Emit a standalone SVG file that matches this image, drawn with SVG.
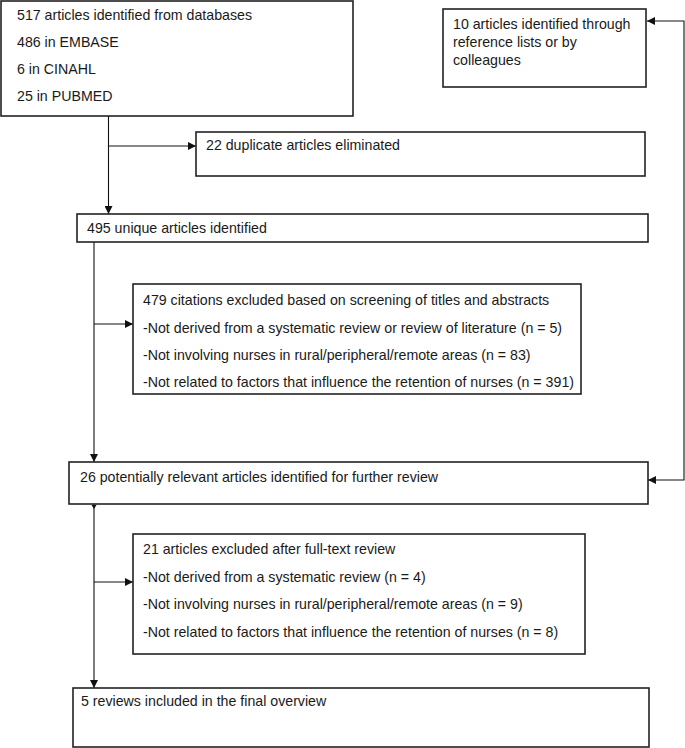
<svg xmlns="http://www.w3.org/2000/svg" width="685" height="748" viewBox="0 0 685 748">
<style>
.box{fill:#fff;stroke:#222;stroke-width:1.6}
.t{font-family:"Liberation Sans",Arial,Helvetica,sans-serif;font-size:14.2px;fill:#1a1a1a}
.c{fill:none;stroke:#111;stroke-width:1.1}
</style>
<defs>
<marker id="ah" viewBox="0 0 10 10" refX="10" refY="5" markerWidth="8" markerHeight="8" markerUnits="userSpaceOnUse" orient="auto-start-reverse">
<path d="M0,0 L10,5 L0,10 z" fill="#111"/>
</marker>
</defs>
<rect width="685" height="748" fill="#fff"/>
<g id="connectors">
<path class="c" d="M108.5,116 V214" marker-end="url(#ah)"/>
<path class="c" d="M108.5,146 H196" marker-end="url(#ah)"/>
<path class="c" d="M94,242 V462" marker-end="url(#ah)"/>
<path class="c" d="M94,324 H133" marker-end="url(#ah)"/>
<path class="c" d="M94,504 V688" marker-end="url(#ah)"/>
<path d="M91.5,505 L96.5,505 L94,509 z" fill="#111"/>
<path class="c" d="M94,582 H133" marker-end="url(#ah)"/>
<path class="c" d="M647,21 H684 V480 H648" marker-start="url(#ah)" marker-end="url(#ah)"/>
</g>
<g id="n1">
<rect class="box" x="1" y="1" width="352" height="115"/>
<text class="t" x="17" y="20">517 articles identified from databases</text>
<text class="t" x="17" y="47">486 in EMBASE</text>
<text class="t" x="17" y="74">6 in CINAHL</text>
<text class="t" x="17" y="101">25 in PUBMED</text>
</g>
<g id="n2">
<rect class="box" x="443" y="9" width="203" height="78"/>
<text class="t" x="453" y="28.5">10 articles identified through</text>
<text class="t" x="453" y="46.5">reference lists or by</text>
<text class="t" x="453" y="64.5">colleagues</text>
</g>
<g id="n3">
<rect class="box" x="196" y="132" width="449" height="44"/>
<text class="t" x="206" y="150">22 duplicate articles eliminated</text>
</g>
<g id="n4">
<rect class="box" x="77" y="214" width="571" height="28"/>
<text class="t" x="87" y="233">495 unique articles identified</text>
</g>
<g id="n5">
<rect class="box" x="133" y="284" width="448" height="110"/>
<text class="t" x="143" y="305">479 citations excluded based on screening of titles and abstracts</text>
<text class="t" x="143" y="333">-Not derived from a systematic review or review of literature (n = 5)</text>
<text class="t" x="143" y="360">-Not involving nurses in rural/peripheral/remote areas (n = 83)</text>
<text class="t" x="143" y="387">-Not related to factors that influence the retention of nurses (n = 391)</text>
</g>
<g id="n6">
<rect class="box" x="69" y="462" width="579" height="42"/>
<text class="t" x="80" y="482">26 potentially relevant articles identified for further review</text>
</g>
<g id="n7">
<rect class="box" x="133" y="534" width="452" height="120"/>
<text class="t" x="143" y="554">21 articles excluded after full-text review</text>
<text class="t" x="143" y="582">-Not derived from a systematic review (n = 4)</text>
<text class="t" x="143" y="609">-Not involving nurses in rural/peripheral/remote areas (n = 9)</text>
<text class="t" x="143" y="637">-Not related to factors that influence the retention of nurses (n = 8)</text>
</g>
<g id="n8">
<rect class="box" x="73" y="688" width="576" height="59"/>
<text class="t" x="81" y="706">5 reviews included in the final overview</text>
</g>
</svg>
